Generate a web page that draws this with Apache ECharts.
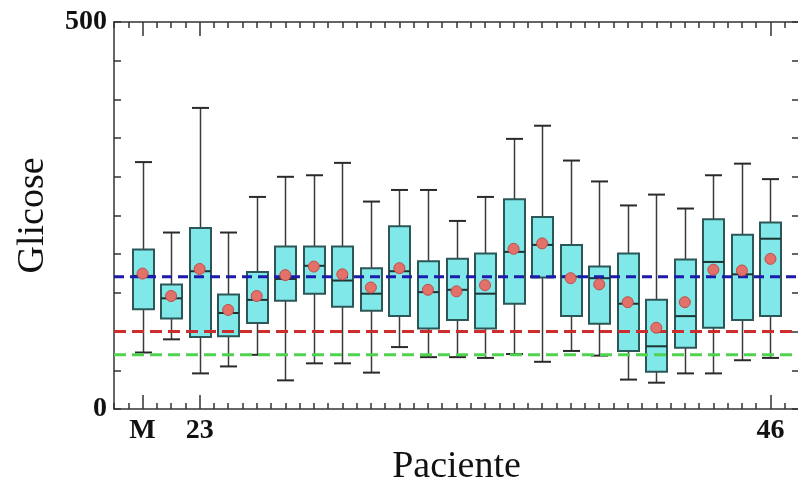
<!DOCTYPE html>
<html>
<head>
<meta charset="utf-8">
<script src="https://cdn.jsdelivr.net/npm/echarts@6/dist/echarts.min.js"></script>
<style>
  html, body { margin: 0; padding: 0; background: #ffffff; }
  #chart { width: 798px; height: 491px; }
</style>
</head>
<body>
<div id="chart"></div>
<script>
// ---- data ----
const positions = [1,2,3,4,5,6,7,8,9,10,11,12,13,14,15,16,17,18,19,20,21,22,23];
const mins    = [73, 90, 46, 55, 70, 37, 59, 59, 47, 80, 67, 67, 66, 71, 61, 75, 69, 38, 34, 46, 46, 63, 66];
const q1s     = [129,117, 93, 94,111,140,149,132,127,120,104,115,104,136,170,120,110, 75, 48, 79,105,115,120];
const medians = [172,143,178,124,141,168,185,166,149,178,151,154,149,203,212,171,169,136, 81,120,190,174,220];
const q3s     = [206,161,234,148,177,210,210,210,182,236,191,194,201,271,248,212,184,201,141,193,245,225,241];
const maxs    = [319,228,389,228,274,300,302,318,268,283,283,243,274,349,366,321,294,263,277,259,302,317,297];
const means   = [175,146,181,128,146,173,184,174,157,182,154,152,160,207,214,169,161,138,105,138,180,179,194];
const labelPositions = [1, 3, 23];
const labelTexts = ['M', '23', '46'];
const refBlue = 171, refRed = 100, refGreen = 70;
const xMin = 0, xMax = 24;
const yMin = 0, yMax = 500;

const boxData = positions.map((p, i) => [p, mins[i], q1s[i], medians[i], q3s[i], maxs[i]]);
const meanData = positions.map((p, i) => [p, means[i]]);

const serif = "'Liberation Serif', 'DejaVu Serif', serif";
const axisColor = '#333333';

function shortAxis(pos) {
  return {
    type: 'value', position: pos, min: xMin, max: xMax, interval: 0.5,
    axisLine: { show: true, onZero: false, lineStyle: { color: axisColor, width: 1.5 } },
    axisTick: { show: true, inside: true, length: 6, lineStyle: { color: axisColor, width: 1.5 } },
    axisLabel: { show: false },
    splitLine: { show: false }
  };
}
function longAxis(pos, withLabels) {
  return {
    type: 'value', position: pos, min: xMin, max: xMax,
    axisLine: { show: false, onZero: false },
    axisTick: { show: true, inside: true, length: 14, customValues: labelPositions,
                lineStyle: { color: axisColor, width: 1.5 } },
    axisLabel: withLabels ? {
      show: true, customValues: labelPositions, margin: 8,
      fontFamily: serif, fontWeight: 'bold', fontSize: 28, color: '#111',
      formatter: v => { const k = labelPositions.indexOf(v); return k >= 0 ? labelTexts[k] : ''; }
    } : { show: false },
    splitLine: { show: false }
  };
}

const chart = echarts.init(document.getElementById('chart'), null, { renderer: 'canvas' });
const xBottom = shortAxis('bottom');
xBottom.name = 'Paciente';
xBottom.nameLocation = 'middle';
xBottom.nameGap = 39;
xBottom.nameTextStyle = { fontFamily: serif, fontSize: 38, color: '#111' };

const option = {
  animation: false,
  backgroundColor: '#ffffff',
  grid: { left: 114, top: 22, width: 685, height: 387, containLabel: false, outerBoundsMode: 'none' },
  xAxis: [xBottom, longAxis('bottom', true), shortAxis('top'), longAxis('top', false)],
  yAxis: [
    {
      type: 'value', position: 'left', min: yMin, max: yMax, interval: 50,
      axisLine: { show: true, onZero: false, lineStyle: { color: axisColor, width: 1.5 } },
      axisTick: { show: true, inside: true, length: 7, lineStyle: { color: axisColor, width: 1.5 } },
      axisLabel: {
        show: true, margin: 7, fontFamily: serif, fontWeight: 'bold', fontSize: 28, color: '#111',
        formatter: v => (v === yMin || v === yMax) ? String(v) : ''
      },
      splitLine: { show: false },
      name: 'Glicose', nameLocation: 'middle', nameRotate: 90, nameGap: 62,
      nameTextStyle: { fontFamily: serif, fontSize: 38, color: '#111' }
    },
    {
      type: 'value', position: 'right', min: yMin, max: yMax, interval: 50,
      axisLine: { show: true, onZero: false, lineStyle: { color: axisColor, width: 1.5 } },
      axisTick: { show: true, inside: true, length: 7, lineStyle: { color: axisColor, width: 1.5 } },
      axisLabel: { show: false },
      splitLine: { show: false }
    }
  ],
  series: [
    {
      type: 'custom', xAxisIndex: 0, yAxisIndex: 0, z: 2,
      encode: { x: 0, y: [1, 2, 3, 4, 5] },
      data: boxData,
      renderItem: function (params, api) {
        const x = api.value(0);
        const pMin = api.coord([x, api.value(1)]);
        const pQ1 = api.coord([x, api.value(2)]);
        const pMed = api.coord([x, api.value(3)]);
        const pQ3 = api.coord([x, api.value(4)]);
        const pMax = api.coord([x, api.value(5)]);
        const cx = Math.round(pMed[0]) + 0.5;
        const bw = 21, cw = 17;
        const wStyle = { stroke: '#3b3b3b', lineWidth: 1.5 };
        return {
          type: 'group',
          children: [
            { type: 'line', shape: { x1: cx, y1: pQ3[1], x2: cx, y2: pMax[1] }, style: wStyle },
            { type: 'line', shape: { x1: cx - cw / 2, y1: pMax[1], x2: cx + cw / 2, y2: pMax[1] }, style: { stroke: '#2a2a2a', lineWidth: 2 } },
            { type: 'line', shape: { x1: cx, y1: pQ1[1], x2: cx, y2: pMin[1] }, style: wStyle },
            { type: 'line', shape: { x1: cx - cw / 2, y1: pMin[1], x2: cx + cw / 2, y2: pMin[1] }, style: { stroke: '#2a2a2a', lineWidth: 2 } },
            { type: 'rect', shape: { x: cx - bw / 2, y: pQ3[1], width: bw, height: pQ1[1] - pQ3[1] },
              style: { fill: '#80e8e8', stroke: '#2d5656', lineWidth: 2 } },
            { type: 'line', shape: { x1: cx - bw / 2, y1: pMed[1], x2: cx + bw / 2, y2: pMed[1] },
              style: { stroke: '#1e3434', lineWidth: 2 } }
          ]
        };
      }
    },
    {
      type: 'line', xAxisIndex: 0, yAxisIndex: 0, z: 3, symbol: 'none', silent: true,
      data: [[xMin, refBlue], [xMax, refBlue]],
      lineStyle: { color: '#1c1caa', width: 3, type: [10, 6] }
    },
    {
      type: 'line', xAxisIndex: 0, yAxisIndex: 0, z: 3, symbol: 'none', silent: true,
      data: [[xMin, refRed], [xMax, refRed]],
      lineStyle: { color: '#cc2d2d', width: 3, type: [12, 6] }
    },
    {
      type: 'line', xAxisIndex: 0, yAxisIndex: 0, z: 3, symbol: 'none', silent: true,
      data: [[xMin, refGreen], [xMax, refGreen]],
      lineStyle: { color: '#4fd34f', width: 3, type: [12, 6] }
    },
    {
      type: 'scatter', xAxisIndex: 0, yAxisIndex: 0, z: 4,
      data: meanData, symbol: 'circle', symbolSize: 11,
      itemStyle: { color: '#e2716a', borderColor: '#c24c48', borderWidth: 1, opacity: 1 }
    }
  ]
};
chart.setOption(option);
</script>
</body>
</html>
